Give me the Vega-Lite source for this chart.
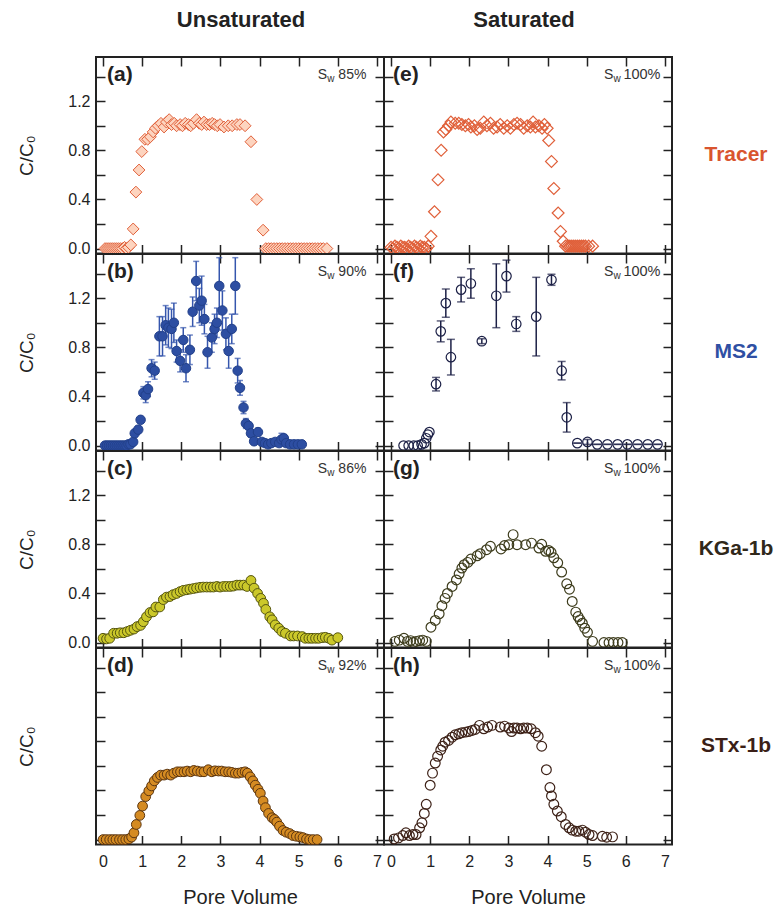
{
"$schema": "https://vega.github.io/schema/vega-lite/v6.json",
"padding": {"left": 16, "top": 8, "right": 0, "bottom": 0},
"config": {
 "font": "Liberation Sans",
 "view": {"stroke": "#222", "strokeWidth": 2},
 "axis": {"domain": false, "grid": false, "tickSize": -9, "tickWidth": 1.5, "tickColor": "#222", "labelFontSize": 16, "labelColor": "#222", "labelPadding": 15, "labelOverlap": false, "labelFlush": false, "labelBound": false, "titleFontSize": 19, "titleFontWeight": "normal", "titleColor": "#222"},
 "title": {"fontSize": 22, "fontWeight": "bold", "color": "#222", "anchor": "middle"}
},
"datasets": {
 "a": [{"pv":0.05,"c":0},{"pv":0.1,"c":0},{"pv":0.15,"c":0},{"pv":0.2,"c":0},{"pv":0.25,"c":0},{"pv":0.3,"c":0},{"pv":0.35,"c":0},{"pv":0.4,"c":0},{"pv":0.45,"c":0},{"pv":0.5,"c":0},{"pv":0.55,"c":0.01},{"pv":0.6,"c":0},{"pv":0.65,"c":0.01},{"pv":0.71,"c":0.03},{"pv":0.77,"c":0.16},{"pv":0.84,"c":0.46},{"pv":0.92,"c":0.64},{"pv":0.99,"c":0.79},{"pv":1.07,"c":0.89},{"pv":1.14,"c":0.89},{"pv":1.21,"c":0.91},{"pv":1.28,"c":0.95},{"pv":1.34,"c":0.98},{"pv":1.41,"c":1.0},{"pv":1.48,"c":1.02},{"pv":1.56,"c":0.99},{"pv":1.62,"c":1.03},{"pv":1.69,"c":1.05},{"pv":1.75,"c":1.01},{"pv":1.82,"c":1.02},{"pv":1.88,"c":1.0},{"pv":1.97,"c":1.01},{"pv":2.03,"c":1.0},{"pv":2.1,"c":1.02},{"pv":2.18,"c":1.01},{"pv":2.24,"c":1.0},{"pv":2.31,"c":1.02},{"pv":2.39,"c":1.05},{"pv":2.46,"c":1.02},{"pv":2.52,"c":1.01},{"pv":2.58,"c":1.03},{"pv":2.65,"c":1.01},{"pv":2.72,"c":1.01},{"pv":2.79,"c":1.02},{"pv":2.85,"c":1.01},{"pv":2.92,"c":1.0},{"pv":2.99,"c":1.01},{"pv":3.09,"c":0.99},{"pv":3.2,"c":1.0},{"pv":3.3,"c":1.0},{"pv":3.42,"c":1.01},{"pv":3.5,"c":1.01},{"pv":3.63,"c":1.0},{"pv":3.78,"c":0.87},{"pv":3.93,"c":0.4},{"pv":4.09,"c":0.15},{"pv":4.16,"c":0},{"pv":4.23,"c":0},{"pv":4.3,"c":0},{"pv":4.37,"c":0},{"pv":4.44,"c":0},{"pv":4.51,"c":0},{"pv":4.58,"c":0},{"pv":4.65,"c":0},{"pv":4.72,"c":0},{"pv":4.79,"c":0},{"pv":4.86,"c":0},{"pv":4.93,"c":0},{"pv":5.0,"c":0},{"pv":5.07,"c":0},{"pv":5.14,"c":0},{"pv":5.21,"c":0},{"pv":5.28,"c":0},{"pv":5.35,"c":0},{"pv":5.42,"c":0},{"pv":5.49,"c":0},{"pv":5.56,"c":0},{"pv":5.63,"c":0},{"pv":5.72,"c":0}],
 "e": [{"pv":0.0,"c":0.01},{"pv":0.05,"c":0.0},{"pv":0.1,"c":0.02},{"pv":0.15,"c":0.01},{"pv":0.2,"c":0.0},{"pv":0.25,"c":0.02},{"pv":0.3,"c":0.01},{"pv":0.35,"c":0.01},{"pv":0.4,"c":0.0},{"pv":0.45,"c":0.02},{"pv":0.5,"c":0.01},{"pv":0.55,"c":0.0},{"pv":0.6,"c":0.02},{"pv":0.65,"c":0.01},{"pv":0.7,"c":0.0},{"pv":0.75,"c":0.02},{"pv":0.8,"c":0.01},{"pv":0.85,"c":0.01},{"pv":0.9,"c":0.0},{"pv":0.95,"c":0.02},{"pv":1.02,"c":0.1},{"pv":1.11,"c":0.3},{"pv":1.2,"c":0.56},{"pv":1.28,"c":0.8},{"pv":1.34,"c":0.95},{"pv":1.4,"c":0.97},{"pv":1.47,"c":1.0},{"pv":1.53,"c":1.03},{"pv":1.64,"c":1.02},{"pv":1.73,"c":1.02},{"pv":1.81,"c":1.01},{"pv":1.9,"c":1.0},{"pv":1.98,"c":1.01},{"pv":2.04,"c":0.99},{"pv":2.13,"c":1.0},{"pv":2.2,"c":0.97},{"pv":2.28,"c":0.98},{"pv":2.37,"c":1.03},{"pv":2.45,"c":1.0},{"pv":2.54,"c":1.02},{"pv":2.62,"c":0.98},{"pv":2.71,"c":0.99},{"pv":2.79,"c":1.01},{"pv":2.88,"c":0.98},{"pv":2.97,"c":1.0},{"pv":3.05,"c":0.98},{"pv":3.14,"c":1.01},{"pv":3.22,"c":1.02},{"pv":3.31,"c":1.01},{"pv":3.39,"c":0.98},{"pv":3.48,"c":1.0},{"pv":3.56,"c":0.99},{"pv":3.63,"c":1.03},{"pv":3.69,"c":0.99},{"pv":3.78,"c":1.0},{"pv":3.86,"c":0.98},{"pv":3.92,"c":1.01},{"pv":3.99,"c":0.98},{"pv":4.03,"c":0.88},{"pv":4.1,"c":0.71},{"pv":4.16,"c":0.49},{"pv":4.27,"c":0.29},{"pv":4.33,"c":0.14},{"pv":4.4,"c":0.06},{"pv":4.46,"c":0.02},{"pv":4.52,"c":0.02},{"pv":4.57,"c":0.02},{"pv":4.62,"c":0.02},{"pv":4.67,"c":0.02},{"pv":4.72,"c":0.02},{"pv":4.77,"c":0.02},{"pv":4.82,"c":0.02},{"pv":4.87,"c":0.02},{"pv":4.92,"c":0.02},{"pv":4.97,"c":0.02},{"pv":5.05,"c":0.02},{"pv":5.15,"c":0.02}],
 "b": [{"pv":0.05,"c":0},{"pv":0.1,"c":0},{"pv":0.15,"c":0},{"pv":0.2,"c":0},{"pv":0.25,"c":0},{"pv":0.3,"c":0},{"pv":0.35,"c":0},{"pv":0.4,"c":0},{"pv":0.45,"c":0},{"pv":0.5,"c":0},{"pv":0.55,"c":0},{"pv":0.6,"c":0},{"pv":0.65,"c":0.01},{"pv":0.7,"c":0.01},{"pv":0.77,"c":0.03,"lo":0.02,"hi":0.04},{"pv":0.81,"c":0.1,"lo":0.07,"hi":0.13},{"pv":0.9,"c":0.13,"lo":0.1,"hi":0.16},{"pv":0.96,"c":0.21,"lo":0.19,"hi":0.23},{"pv":1.03,"c":0.43,"lo":0.38,"hi":0.48},{"pv":1.09,"c":0.41,"lo":0.35,"hi":0.47},{"pv":1.15,"c":0.46,"lo":0.4,"hi":0.52},{"pv":1.24,"c":0.63,"lo":0.56,"hi":0.7},{"pv":1.32,"c":0.61,"lo":0.54,"hi":0.68},{"pv":1.44,"c":0.89,"lo":0.73,"hi":1.05},{"pv":1.52,"c":0.89,"lo":0.73,"hi":1.05},{"pv":1.6,"c":0.98,"lo":0.82,"hi":1.14},{"pv":1.67,"c":0.96,"lo":0.8,"hi":1.12},{"pv":1.75,"c":0.95,"lo":0.79,"hi":1.11},{"pv":1.81,"c":1.0,"lo":0.84,"hi":1.16},{"pv":1.88,"c":0.77,"lo":0.68,"hi":0.86},{"pv":1.97,"c":0.69,"lo":0.6,"hi":0.78},{"pv":2.05,"c":0.86,"lo":0.76,"hi":0.96},{"pv":2.12,"c":0.63,"lo":0.52,"hi":0.74},{"pv":2.22,"c":0.78,"lo":0.66,"hi":0.9},{"pv":2.29,"c":1.09,"lo":0.97,"hi":1.21},{"pv":2.38,"c":1.34,"lo":1.18,"hi":1.5},{"pv":2.46,"c":1.14,"lo":1.0,"hi":1.28},{"pv":2.52,"c":1.18,"lo":0.98,"hi":1.38},{"pv":2.59,"c":1.03,"lo":0.91,"hi":1.15},{"pv":2.67,"c":0.76,"lo":0.63,"hi":0.89},{"pv":2.78,"c":0.88,"lo":0.76,"hi":1.0},{"pv":2.85,"c":0.95,"lo":0.83,"hi":1.07},{"pv":2.91,"c":1.0,"lo":0.88,"hi":1.12},{"pv":2.97,"c":1.3,"lo":1.07,"hi":1.53},{"pv":3.05,"c":1.1,"lo":0.94,"hi":1.26},{"pv":3.14,"c":0.91,"lo":0.78,"hi":1.04},{"pv":3.21,"c":0.77,"lo":0.63,"hi":0.91},{"pv":3.29,"c":0.95,"lo":0.83,"hi":1.07},{"pv":3.38,"c":1.3,"lo":1.07,"hi":1.53},{"pv":3.44,"c":0.61,"lo":0.51,"hi":0.71},{"pv":3.5,"c":0.47,"lo":0.41,"hi":0.53},{"pv":3.59,"c":0.31,"lo":0.26,"hi":0.36},{"pv":3.65,"c":0.18,"lo":0.14,"hi":0.22},{"pv":3.72,"c":0.16,"lo":0.13,"hi":0.19},{"pv":3.78,"c":0.1,"lo":0.07,"hi":0.13},{"pv":3.86,"c":0.035,"lo":0.015,"hi":0.055},{"pv":3.96,"c":0.11,"lo":0.08,"hi":0.14},{"pv":4.06,"c":0.03},{"pv":4.14,"c":0.02},{"pv":4.22,"c":0.01},{"pv":4.3,"c":0.02},{"pv":4.4,"c":0.03},{"pv":4.5,"c":0.02},{"pv":4.56,"c":0.05,"lo":0.01,"hi":0.1},{"pv":4.62,"c":0.06,"lo":0.03,"hi":0.09},{"pv":4.68,"c":0.02},{"pv":4.78,"c":0.01},{"pv":4.88,"c":0.01},{"pv":4.98,"c":0.01},{"pv":5.08,"c":0.01}],
 "f": [{"pv":0.32,"c":0},{"pv":0.45,"c":0},{"pv":0.58,"c":0},{"pv":0.68,"c":0},{"pv":0.78,"c":0.01},{"pv":0.85,"c":0.02},{"pv":0.9,"c":0.06},{"pv":0.94,"c":0.09},{"pv":0.98,"c":0.11},{"pv":1.15,"c":0.5,"lo":0.445,"hi":0.555},{"pv":1.27,"c":0.93,"lo":0.845,"hi":1.015},{"pv":1.4,"c":1.16,"lo":1.045,"hi":1.275},{"pv":1.53,"c":0.72,"lo":0.575,"hi":0.865},{"pv":1.79,"c":1.27,"lo":1.17,"hi":1.37},{"pv":2.04,"c":1.32,"lo":1.2,"hi":1.44},{"pv":2.32,"c":0.85,"lo":0.83,"hi":0.87},{"pv":2.69,"c":1.22,"lo":0.96,"hi":1.48},{"pv":2.95,"c":1.38,"lo":1.25,"hi":1.51},{"pv":3.2,"c":0.99,"lo":0.93,"hi":1.05},{"pv":3.71,"c":1.05,"lo":0.73,"hi":1.37},{"pv":4.1,"c":1.35,"lo":1.305,"hi":1.395},{"pv":4.36,"c":0.61,"lo":0.535,"hi":0.685},{"pv":4.49,"c":0.23,"lo":0.11,"hi":0.35},{"pv":4.76,"c":0.02,"lo":0.02,"hi":0.02},{"pv":5.02,"c":0.03,"lo":0.01,"hi":0.05},{"pv":5.27,"c":0.01,"lo":0.01,"hi":0.01},{"pv":5.53,"c":0.01,"lo":0.01,"hi":0.01},{"pv":5.79,"c":0.01,"lo":0.01,"hi":0.01},{"pv":6.04,"c":0.01,"lo":0.01,"hi":0.01},{"pv":6.3,"c":0.01,"lo":0.01,"hi":0.01},{"pv":6.56,"c":0.01,"lo":0.01,"hi":0.01},{"pv":6.81,"c":0.01,"lo":0.01,"hi":0.01}],
 "c": [{"pv":0.0,"c":0.035},{"pv":0.09,"c":0.03},{"pv":0.17,"c":0.035},{"pv":0.27,"c":0.076},{"pv":0.36,"c":0.076},{"pv":0.44,"c":0.08},{"pv":0.53,"c":0.08},{"pv":0.62,"c":0.09},{"pv":0.7,"c":0.1},{"pv":0.79,"c":0.11},{"pv":0.87,"c":0.13},{"pv":0.96,"c":0.14},{"pv":1.03,"c":0.17},{"pv":1.11,"c":0.21},{"pv":1.2,"c":0.245},{"pv":1.28,"c":0.25},{"pv":1.35,"c":0.29},{"pv":1.45,"c":0.29},{"pv":1.54,"c":0.35},{"pv":1.62,"c":0.37},{"pv":1.71,"c":0.375},{"pv":1.79,"c":0.39},{"pv":1.88,"c":0.4},{"pv":1.97,"c":0.415},{"pv":2.05,"c":0.425},{"pv":2.14,"c":0.43},{"pv":2.22,"c":0.435},{"pv":2.31,"c":0.44},{"pv":2.39,"c":0.445},{"pv":2.48,"c":0.45},{"pv":2.56,"c":0.452},{"pv":2.65,"c":0.452},{"pv":2.74,"c":0.452},{"pv":2.82,"c":0.452},{"pv":2.91,"c":0.457},{"pv":2.99,"c":0.452},{"pv":3.08,"c":0.457},{"pv":3.16,"c":0.457},{"pv":3.25,"c":0.457},{"pv":3.33,"c":0.46},{"pv":3.42,"c":0.468},{"pv":3.5,"c":0.468},{"pv":3.59,"c":0.468},{"pv":3.68,"c":0.457},{"pv":3.78,"c":0.506},{"pv":3.86,"c":0.443},{"pv":3.95,"c":0.4},{"pv":4.03,"c":0.36},{"pv":4.1,"c":0.32},{"pv":4.16,"c":0.27},{"pv":4.26,"c":0.21},{"pv":4.32,"c":0.185},{"pv":4.4,"c":0.144},{"pv":4.49,"c":0.117},{"pv":4.57,"c":0.09},{"pv":4.66,"c":0.076},{"pv":4.79,"c":0.054},{"pv":4.87,"c":0.054},{"pv":4.97,"c":0.054},{"pv":5.09,"c":0.049},{"pv":5.17,"c":0.035},{"pv":5.26,"c":0.035},{"pv":5.34,"c":0.035},{"pv":5.43,"c":0.035},{"pv":5.51,"c":0.035},{"pv":5.6,"c":0.04},{"pv":5.68,"c":0.043},{"pv":5.77,"c":0.035},{"pv":5.85,"c":0.02},{"pv":6.0,"c":0.04}],
 "g": [{"pv":0.1,"c":0.01},{"pv":0.21,"c":0.02},{"pv":0.33,"c":0.035},{"pv":0.42,"c":0.01},{"pv":0.5,"c":0.016},{"pv":0.57,"c":0.0},{"pv":0.64,"c":0.01},{"pv":0.73,"c":0.016},{"pv":0.81,"c":0.02},{"pv":0.9,"c":0.01},{"pv":1.02,"c":0.125},{"pv":1.13,"c":0.18},{"pv":1.23,"c":0.234},{"pv":1.3,"c":0.3},{"pv":1.38,"c":0.36},{"pv":1.44,"c":0.4},{"pv":1.56,"c":0.457},{"pv":1.67,"c":0.51},{"pv":1.74,"c":0.56},{"pv":1.81,"c":0.607},{"pv":1.87,"c":0.634},{"pv":1.96,"c":0.653},{"pv":2.04,"c":0.68},{"pv":2.2,"c":0.707},{"pv":2.28,"c":0.724},{"pv":2.44,"c":0.756},{"pv":2.54,"c":0.784},{"pv":2.81,"c":0.762},{"pv":2.9,"c":0.79},{"pv":3.01,"c":0.797},{"pv":3.12,"c":0.879},{"pv":3.22,"c":0.797},{"pv":3.44,"c":0.797},{"pv":3.59,"c":0.81},{"pv":3.78,"c":0.77},{"pv":3.85,"c":0.8},{"pv":3.95,"c":0.743},{"pv":4.03,"c":0.75},{"pv":4.09,"c":0.735},{"pv":4.16,"c":0.69},{"pv":4.26,"c":0.65},{"pv":4.36,"c":0.574},{"pv":4.49,"c":0.479},{"pv":4.56,"c":0.435},{"pv":4.63,"c":0.335},{"pv":4.72,"c":0.248},{"pv":4.78,"c":0.212},{"pv":4.83,"c":0.185},{"pv":4.89,"c":0.158},{"pv":4.95,"c":0.117},{"pv":5.02,"c":0.084},{"pv":5.15,"c":0.01},{"pv":5.44,"c":0.0},{"pv":5.57,"c":0.0},{"pv":5.68,"c":0.0},{"pv":5.8,"c":0.0},{"pv":5.91,"c":0.0}],
 "d": [{"pv":0.0,"c":0},{"pv":0.08,"c":0},{"pv":0.17,"c":0},{"pv":0.25,"c":0},{"pv":0.33,"c":0},{"pv":0.42,"c":0},{"pv":0.5,"c":0},{"pv":0.58,"c":0},{"pv":0.66,"c":0.005},{"pv":0.73,"c":0.02},{"pv":0.79,"c":0.055},{"pv":0.85,"c":0.123},{"pv":0.94,"c":0.197},{"pv":1.01,"c":0.273},{"pv":1.09,"c":0.35},{"pv":1.17,"c":0.397},{"pv":1.24,"c":0.437},{"pv":1.31,"c":0.478},{"pv":1.39,"c":0.506},{"pv":1.47,"c":0.525},{"pv":1.56,"c":0.525},{"pv":1.64,"c":0.533},{"pv":1.73,"c":0.525},{"pv":1.81,"c":0.541},{"pv":1.9,"c":0.552},{"pv":1.98,"c":0.552},{"pv":2.07,"c":0.552},{"pv":2.15,"c":0.558},{"pv":2.24,"c":0.552},{"pv":2.32,"c":0.563},{"pv":2.41,"c":0.558},{"pv":2.5,"c":0.552},{"pv":2.58,"c":0.552},{"pv":2.69,"c":0.569},{"pv":2.78,"c":0.552},{"pv":2.86,"c":0.56},{"pv":2.95,"c":0.558},{"pv":3.03,"c":0.558},{"pv":3.12,"c":0.552},{"pv":3.21,"c":0.552},{"pv":3.29,"c":0.547},{"pv":3.38,"c":0.541},{"pv":3.46,"c":0.541},{"pv":3.55,"c":0.547},{"pv":3.63,"c":0.552},{"pv":3.69,"c":0.541},{"pv":3.76,"c":0.511},{"pv":3.83,"c":0.478},{"pv":3.89,"c":0.443},{"pv":3.96,"c":0.41},{"pv":4.02,"c":0.377},{"pv":4.09,"c":0.314},{"pv":4.15,"c":0.26},{"pv":4.23,"c":0.213},{"pv":4.32,"c":0.178},{"pv":4.38,"c":0.164},{"pv":4.44,"c":0.142},{"pv":4.51,"c":0.109},{"pv":4.6,"c":0.074},{"pv":4.68,"c":0.06},{"pv":4.77,"c":0.049},{"pv":4.85,"c":0.033},{"pv":4.94,"c":0.027},{"pv":5.03,"c":0.022},{"pv":5.11,"c":0.016},{"pv":5.2,"c":0.005},{"pv":5.28,"c":0},{"pv":5.37,"c":0},{"pv":5.47,"c":0}],
 "h": [{"pv":0.08,"c":0.005},{"pv":0.19,"c":0.014},{"pv":0.3,"c":0.033},{"pv":0.38,"c":0.055},{"pv":0.47,"c":0.033},{"pv":0.56,"c":0.041},{"pv":0.64,"c":0.041},{"pv":0.73,"c":0.096},{"pv":0.79,"c":0.137},{"pv":0.85,"c":0.213},{"pv":0.9,"c":0.287},{"pv":1.0,"c":0.443},{"pv":1.06,"c":0.541},{"pv":1.13,"c":0.623},{"pv":1.19,"c":0.678},{"pv":1.27,"c":0.73},{"pv":1.32,"c":0.76},{"pv":1.38,"c":0.793},{"pv":1.47,"c":0.807},{"pv":1.56,"c":0.834},{"pv":1.64,"c":0.853},{"pv":1.73,"c":0.861},{"pv":1.81,"c":0.87},{"pv":1.9,"c":0.875},{"pv":1.98,"c":0.88},{"pv":2.07,"c":0.889},{"pv":2.15,"c":0.897},{"pv":2.26,"c":0.93},{"pv":2.37,"c":0.902},{"pv":2.47,"c":0.916},{"pv":2.58,"c":0.93},{"pv":2.79,"c":0.916},{"pv":2.9,"c":0.924},{"pv":3.01,"c":0.908},{"pv":3.08,"c":0.88},{"pv":3.14,"c":0.908},{"pv":3.22,"c":0.908},{"pv":3.31,"c":0.902},{"pv":3.39,"c":0.908},{"pv":3.48,"c":0.908},{"pv":3.58,"c":0.902},{"pv":3.69,"c":0.87},{"pv":3.76,"c":0.842},{"pv":3.85,"c":0.76},{"pv":3.97,"c":0.569},{"pv":4.06,"c":0.424},{"pv":4.1,"c":0.355},{"pv":4.16,"c":0.287},{"pv":4.25,"c":0.232},{"pv":4.35,"c":0.186},{"pv":4.46,"c":0.123},{"pv":4.55,"c":0.096},{"pv":4.63,"c":0.077},{"pv":4.72,"c":0.068},{"pv":4.8,"c":0.068},{"pv":4.89,"c":0.077},{"pv":4.97,"c":0.06},{"pv":5.06,"c":0.041},{"pv":5.15,"c":0.033},{"pv":5.4,"c":0.027},{"pv":5.51,"c":0.019},{"pv":5.66,"c":0.022}]
},
"columns": 3,
"spacing": 0,
"bounds": "flush",
"concat": [
 {"width": 288, "height": 196.5, "title": {"text": "Unsaturated", "offset": 24, "dx": 1},
  "layer": [
   {"data": {"name": "a"}, "mark": {"type": "point", "shape": "diamond", "filled": true, "fill": "#fdd4bf", "stroke": "#e0603a", "strokeWidth": 1, "size": 140, "opacity": 1},
    "encoding": {"x": {"field": "pv", "type": "quantitative", "scale": {"domain": [-0.18, 7.18], "nice": false, "zero": false}, "axis": {"orient": "bottom", "values": [0,1,2,3,4,5,6,7], "labels": false, "title": null}},
                 "y": {"field": "c", "type": "quantitative", "scale": {"domain": [-0.04, 1.56], "nice": false, "zero": false}, "axis": {"orient": "left", "values": [0,0.2,0.4,0.6,0.8,1,1.2,1.4], "labelExpr": "round(datum.value*10)%4==0 ? format(datum.value,'.1f') : ''", "title": "C/C₀", "titlePadding": 31}}}},
   {"data": {"values": [{}]}, "mark": {"type": "text", "text": "(a)", "fontSize": 21, "fontWeight": "bold", "align": "left", "baseline": "middle", "color": "#222"},
    "encoding": {"x": {"datum": 0.1, "type": "quantitative", "scale": {"domain": [-0.18, 7.18], "nice": false, "zero": false}, "axis": {"orient": "top", "values": [0,1,2,3,4,5,6,7], "labels": false, "title": null}},
                 "y": {"datum": 1.41, "type": "quantitative", "scale": {"domain": [-0.04, 1.56], "nice": false, "zero": false}, "axis": {"orient": "right", "values": [0,0.2,0.4,0.6,0.8,1,1.2,1.4], "labels": false, "title": null}}}},
   {"data": {"values": [{}]}, "mark": {"type": "text", "text": "S", "fontSize": 14, "align": "left", "baseline": "middle", "color": "#333"},
    "encoding": {"x": {"datum": 5.49, "type": "quantitative", "axis": null}, "y": {"datum": 1.41, "type": "quantitative", "axis": null}}},
   {"data": {"values": [{}]}, "mark": {"type": "text", "text": "w", "fontSize": 10, "dx": 9.5, "dy": 4, "align": "left", "baseline": "middle", "color": "#333"},
    "encoding": {"x": {"datum": 5.49, "type": "quantitative", "axis": null}, "y": {"datum": 1.41, "type": "quantitative", "axis": null}}},
   {"data": {"values": [{}]}, "mark": {"type": "text", "text": "85%", "fontSize": 14, "dx": 20.5, "align": "left", "baseline": "middle", "color": "#333"},
    "encoding": {"x": {"datum": 5.49, "type": "quantitative", "axis": null}, "y": {"datum": 1.41, "type": "quantitative", "axis": null}}}
  ],
  "resolve": {"axis": {"x": "independent", "y": "independent"}}},
 {"width": 288, "height": 196.5, "title": {"text": "Saturated", "offset": 24, "dx": -4},
  "layer": [
   {"data": {"name": "e"}, "mark": {"type": "point", "shape": "diamond", "filled": false, "stroke": "#e0603a", "strokeWidth": 1.2, "size": 140, "opacity": 1},
    "encoding": {"x": {"field": "pv", "type": "quantitative", "scale": {"domain": [-0.18, 7.18], "nice": false, "zero": false}, "axis": {"orient": "bottom", "values": [0,1,2,3,4,5,6,7], "labels": false, "title": null}},
                 "y": {"field": "c", "type": "quantitative", "scale": {"domain": [-0.04, 1.56], "nice": false, "zero": false}, "axis": {"orient": "left", "values": [0,0.2,0.4,0.6,0.8,1,1.2,1.4], "labels": false, "title": null}}}},
   {"data": {"values": [{}]}, "mark": {"type": "text", "text": "(e)", "fontSize": 21, "fontWeight": "bold", "align": "left", "baseline": "middle", "color": "#222"},
    "encoding": {"x": {"datum": 0.05, "type": "quantitative", "scale": {"domain": [-0.18, 7.18], "nice": false, "zero": false}, "axis": {"orient": "top", "values": [0,1,2,3,4,5,6,7], "labels": false, "title": null}},
                 "y": {"datum": 1.41, "type": "quantitative", "scale": {"domain": [-0.04, 1.56], "nice": false, "zero": false}, "axis": {"orient": "right", "values": [0,0.2,0.4,0.6,0.8,1,1.2,1.4], "labels": false, "title": null}}}},
   {"data": {"values": [{}]}, "mark": {"type": "text", "text": "S", "fontSize": 14, "align": "left", "baseline": "middle", "color": "#333"},
    "encoding": {"x": {"datum": 5.44, "type": "quantitative", "axis": null}, "y": {"datum": 1.41, "type": "quantitative", "axis": null}}},
   {"data": {"values": [{}]}, "mark": {"type": "text", "text": "w", "fontSize": 10, "dx": 9.5, "dy": 4, "align": "left", "baseline": "middle", "color": "#333"},
    "encoding": {"x": {"datum": 5.44, "type": "quantitative", "axis": null}, "y": {"datum": 1.41, "type": "quantitative", "axis": null}}},
   {"data": {"values": [{}]}, "mark": {"type": "text", "text": "100%", "fontSize": 14.5, "dx": 19.5, "align": "left", "baseline": "middle", "color": "#333"},
    "encoding": {"x": {"datum": 5.44, "type": "quantitative", "axis": null}, "y": {"datum": 1.41, "type": "quantitative", "axis": null}}}
  ],
  "resolve": {"axis": {"x": "independent", "y": "independent"}}},
 {"width": 100, "height": 196.5, "view": {"stroke": null}, "data": {"values": [{}]},
  "mark": {"type": "text", "text": "Tracer", "fontSize": 21, "fontWeight": "bold", "color": "#d9552f"},
  "encoding": {"x": {"datum": 64, "type": "quantitative", "scale": {"domain": [0, 100]}, "axis": null}, "y": {"datum": 0.5, "type": "quantitative", "scale": {"domain": [0, 1]}, "axis": null}}},
 {"width": 288, "height": 196.5,
  "layer": [
   {"data": {"name": "b"}, "mark": {"type": "rule", "color": "#3556ad", "strokeWidth": 1.5},
    "encoding": {"x": {"field": "pv", "type": "quantitative", "scale": {"domain": [-0.18, 7.18], "nice": false, "zero": false}, "axis": null}, "y": {"field": "lo", "type": "quantitative", "scale": {"domain": [-0.04, 1.56], "nice": false, "zero": false}, "axis": null}, "y2": {"field": "hi"}}},
   {"data": {"name": "b"}, "mark": {"type": "tick", "orient": "horizontal", "color": "#3556ad", "size": 6, "thickness": 1.5},
    "encoding": {"x": {"field": "pv", "type": "quantitative", "axis": null}, "y": {"field": "lo", "type": "quantitative", "axis": null}}},
   {"data": {"name": "b"}, "mark": {"type": "tick", "orient": "horizontal", "color": "#3556ad", "size": 6, "thickness": 1.5},
    "encoding": {"x": {"field": "pv", "type": "quantitative", "axis": null}, "y": {"field": "hi", "type": "quantitative", "axis": null}}},
   {"data": {"name": "b"}, "mark": {"type": "point", "shape": "circle", "filled": true, "fill": "#2d4ea2", "stroke": "#22408a", "strokeWidth": 1, "size": 90, "opacity": 1},
    "encoding": {"x": {"field": "pv", "type": "quantitative", "axis": {"orient": "bottom", "values": [0,1,2,3,4,5,6,7], "labels": false, "title": null}},
                 "y": {"field": "c", "type": "quantitative", "axis": {"orient": "left", "values": [0,0.2,0.4,0.6,0.8,1,1.2,1.4], "labelExpr": "round(datum.value*10)%4==0 ? format(datum.value,'.1f') : ''", "title": "C/C₀", "titlePadding": 31}}}},
   {"data": {"values": [{}]}, "mark": {"type": "text", "text": "(b)", "fontSize": 21, "fontWeight": "bold", "align": "left", "baseline": "middle", "color": "#222"},
    "encoding": {"x": {"datum": 0.1, "type": "quantitative", "axis": {"orient": "top", "values": [0,1,2,3,4,5,6,7], "labels": false, "title": null}},
                 "y": {"datum": 1.41, "type": "quantitative", "axis": {"orient": "right", "values": [0,0.2,0.4,0.6,0.8,1,1.2,1.4], "labels": false, "title": null}}}},
   {"data": {"values": [{}]}, "mark": {"type": "text", "text": "S", "fontSize": 14, "align": "left", "baseline": "middle", "color": "#333"},
    "encoding": {"x": {"datum": 5.49, "type": "quantitative", "axis": null}, "y": {"datum": 1.41, "type": "quantitative", "axis": null}}},
   {"data": {"values": [{}]}, "mark": {"type": "text", "text": "w", "fontSize": 10, "dx": 9.5, "dy": 4, "align": "left", "baseline": "middle", "color": "#333"},
    "encoding": {"x": {"datum": 5.49, "type": "quantitative", "axis": null}, "y": {"datum": 1.41, "type": "quantitative", "axis": null}}},
   {"data": {"values": [{}]}, "mark": {"type": "text", "text": "90%", "fontSize": 14, "dx": 20.5, "align": "left", "baseline": "middle", "color": "#333"},
    "encoding": {"x": {"datum": 5.49, "type": "quantitative", "axis": null}, "y": {"datum": 1.41, "type": "quantitative", "axis": null}}}
  ],
  "resolve": {"axis": {"x": "independent", "y": "independent"}}},
 {"width": 288, "height": 196.5,
  "layer": [
   {"data": {"name": "f"}, "mark": {"type": "rule", "color": "#1c2046", "strokeWidth": 1.5},
    "encoding": {"x": {"field": "pv", "type": "quantitative", "scale": {"domain": [-0.18, 7.18], "nice": false, "zero": false}, "axis": null}, "y": {"field": "lo", "type": "quantitative", "scale": {"domain": [-0.04, 1.56], "nice": false, "zero": false}, "axis": null}, "y2": {"field": "hi"}}},
   {"data": {"name": "f"}, "mark": {"type": "tick", "orient": "horizontal", "color": "#1c2046", "size": 8, "thickness": 1.5},
    "encoding": {"x": {"field": "pv", "type": "quantitative", "axis": null}, "y": {"field": "lo", "type": "quantitative", "axis": null}}},
   {"data": {"name": "f"}, "mark": {"type": "tick", "orient": "horizontal", "color": "#1c2046", "size": 8, "thickness": 1.5},
    "encoding": {"x": {"field": "pv", "type": "quantitative", "axis": null}, "y": {"field": "hi", "type": "quantitative", "axis": null}}},
   {"data": {"name": "f"}, "mark": {"type": "point", "shape": "circle", "filled": false, "stroke": "#1c2046", "strokeWidth": 1.2, "size": 90, "opacity": 1},
    "encoding": {"x": {"field": "pv", "type": "quantitative", "axis": {"orient": "bottom", "values": [0,1,2,3,4,5,6,7], "labels": false, "title": null}},
                 "y": {"field": "c", "type": "quantitative", "axis": {"orient": "left", "values": [0,0.2,0.4,0.6,0.8,1,1.2,1.4], "labels": false, "title": null}}}},
   {"data": {"values": [{}]}, "mark": {"type": "text", "text": "(f)", "fontSize": 21, "fontWeight": "bold", "align": "left", "baseline": "middle", "color": "#222"},
    "encoding": {"x": {"datum": 0.05, "type": "quantitative", "axis": {"orient": "top", "values": [0,1,2,3,4,5,6,7], "labels": false, "title": null}},
                 "y": {"datum": 1.41, "type": "quantitative", "axis": {"orient": "right", "values": [0,0.2,0.4,0.6,0.8,1,1.2,1.4], "labels": false, "title": null}}}},
   {"data": {"values": [{}]}, "mark": {"type": "text", "text": "S", "fontSize": 14, "align": "left", "baseline": "middle", "color": "#333"},
    "encoding": {"x": {"datum": 5.44, "type": "quantitative", "axis": null}, "y": {"datum": 1.41, "type": "quantitative", "axis": null}}},
   {"data": {"values": [{}]}, "mark": {"type": "text", "text": "w", "fontSize": 10, "dx": 9.5, "dy": 4, "align": "left", "baseline": "middle", "color": "#333"},
    "encoding": {"x": {"datum": 5.44, "type": "quantitative", "axis": null}, "y": {"datum": 1.41, "type": "quantitative", "axis": null}}},
   {"data": {"values": [{}]}, "mark": {"type": "text", "text": "100%", "fontSize": 14.5, "dx": 19.5, "align": "left", "baseline": "middle", "color": "#333"},
    "encoding": {"x": {"datum": 5.44, "type": "quantitative", "axis": null}, "y": {"datum": 1.41, "type": "quantitative", "axis": null}}}
  ],
  "resolve": {"axis": {"x": "independent", "y": "independent"}}},
 {"width": 100, "height": 196.5, "view": {"stroke": null}, "data": {"values": [{}]},
  "mark": {"type": "text", "text": "MS2", "fontSize": 21, "fontWeight": "bold", "color": "#2f4fa3"},
  "encoding": {"x": {"datum": 64, "type": "quantitative", "scale": {"domain": [0, 100]}, "axis": null}, "y": {"datum": 0.5, "type": "quantitative", "scale": {"domain": [0, 1]}, "axis": null}}},
 {"width": 288, "height": 196.5,
  "layer": [
   {"data": {"name": "c"}, "mark": {"type": "point", "shape": "circle", "filled": true, "fill": "#cbc82a", "stroke": "#55550f", "strokeWidth": 1, "size": 95, "opacity": 1},
    "encoding": {"x": {"field": "pv", "type": "quantitative", "scale": {"domain": [-0.18, 7.18], "nice": false, "zero": false}, "axis": {"orient": "bottom", "values": [0,1,2,3,4,5,6,7], "labels": false, "title": null}},
                 "y": {"field": "c", "type": "quantitative", "scale": {"domain": [-0.04, 1.56], "nice": false, "zero": false}, "axis": {"orient": "left", "values": [0,0.2,0.4,0.6,0.8,1,1.2,1.4], "labelExpr": "round(datum.value*10)%4==0 ? format(datum.value,'.1f') : ''", "title": "C/C₀", "titlePadding": 31}}}},
   {"data": {"values": [{}]}, "mark": {"type": "text", "text": "(c)", "fontSize": 21, "fontWeight": "bold", "align": "left", "baseline": "middle", "color": "#222"},
    "encoding": {"x": {"datum": 0.1, "type": "quantitative", "scale": {"domain": [-0.18, 7.18], "nice": false, "zero": false}, "axis": {"orient": "top", "values": [0,1,2,3,4,5,6,7], "labels": false, "title": null}},
                 "y": {"datum": 1.41, "type": "quantitative", "scale": {"domain": [-0.04, 1.56], "nice": false, "zero": false}, "axis": {"orient": "right", "values": [0,0.2,0.4,0.6,0.8,1,1.2,1.4], "labels": false, "title": null}}}},
   {"data": {"values": [{}]}, "mark": {"type": "text", "text": "S", "fontSize": 14, "align": "left", "baseline": "middle", "color": "#333"},
    "encoding": {"x": {"datum": 5.49, "type": "quantitative", "axis": null}, "y": {"datum": 1.41, "type": "quantitative", "axis": null}}},
   {"data": {"values": [{}]}, "mark": {"type": "text", "text": "w", "fontSize": 10, "dx": 9.5, "dy": 4, "align": "left", "baseline": "middle", "color": "#333"},
    "encoding": {"x": {"datum": 5.49, "type": "quantitative", "axis": null}, "y": {"datum": 1.41, "type": "quantitative", "axis": null}}},
   {"data": {"values": [{}]}, "mark": {"type": "text", "text": "86%", "fontSize": 14, "dx": 20.5, "align": "left", "baseline": "middle", "color": "#333"},
    "encoding": {"x": {"datum": 5.49, "type": "quantitative", "axis": null}, "y": {"datum": 1.41, "type": "quantitative", "axis": null}}}
  ],
  "resolve": {"axis": {"x": "independent", "y": "independent"}}},
 {"width": 288, "height": 196.5,
  "layer": [
   {"data": {"name": "g"}, "mark": {"type": "point", "shape": "circle", "filled": false, "stroke": "#3d3c1c", "strokeWidth": 1.2, "size": 95, "opacity": 1},
    "encoding": {"x": {"field": "pv", "type": "quantitative", "scale": {"domain": [-0.18, 7.18], "nice": false, "zero": false}, "axis": {"orient": "bottom", "values": [0,1,2,3,4,5,6,7], "labels": false, "title": null}},
                 "y": {"field": "c", "type": "quantitative", "scale": {"domain": [-0.04, 1.56], "nice": false, "zero": false}, "axis": {"orient": "left", "values": [0,0.2,0.4,0.6,0.8,1,1.2,1.4], "labels": false, "title": null}}}},
   {"data": {"values": [{}]}, "mark": {"type": "text", "text": "(g)", "fontSize": 21, "fontWeight": "bold", "align": "left", "baseline": "middle", "color": "#222"},
    "encoding": {"x": {"datum": 0.05, "type": "quantitative", "scale": {"domain": [-0.18, 7.18], "nice": false, "zero": false}, "axis": {"orient": "top", "values": [0,1,2,3,4,5,6,7], "labels": false, "title": null}},
                 "y": {"datum": 1.41, "type": "quantitative", "scale": {"domain": [-0.04, 1.56], "nice": false, "zero": false}, "axis": {"orient": "right", "values": [0,0.2,0.4,0.6,0.8,1,1.2,1.4], "labels": false, "title": null}}}},
   {"data": {"values": [{}]}, "mark": {"type": "text", "text": "S", "fontSize": 14, "align": "left", "baseline": "middle", "color": "#333"},
    "encoding": {"x": {"datum": 5.44, "type": "quantitative", "axis": null}, "y": {"datum": 1.41, "type": "quantitative", "axis": null}}},
   {"data": {"values": [{}]}, "mark": {"type": "text", "text": "w", "fontSize": 10, "dx": 9.5, "dy": 4, "align": "left", "baseline": "middle", "color": "#333"},
    "encoding": {"x": {"datum": 5.44, "type": "quantitative", "axis": null}, "y": {"datum": 1.41, "type": "quantitative", "axis": null}}},
   {"data": {"values": [{}]}, "mark": {"type": "text", "text": "100%", "fontSize": 14.5, "dx": 19.5, "align": "left", "baseline": "middle", "color": "#333"},
    "encoding": {"x": {"datum": 5.44, "type": "quantitative", "axis": null}, "y": {"datum": 1.41, "type": "quantitative", "axis": null}}}
  ],
  "resolve": {"axis": {"x": "independent", "y": "independent"}}},
 {"width": 100, "height": 196.5, "view": {"stroke": null}, "data": {"values": [{}]},
  "mark": {"type": "text", "text": "KGa-1b", "fontSize": 21, "fontWeight": "bold", "color": "#30281a"},
  "encoding": {"x": {"datum": 64, "type": "quantitative", "scale": {"domain": [0, 100]}, "axis": null}, "y": {"datum": 0.5, "type": "quantitative", "scale": {"domain": [0, 1]}, "axis": null}}},
 {"width": 288, "height": 196.5,
  "layer": [
   {"data": {"name": "d"}, "mark": {"type": "point", "shape": "circle", "filled": true, "fill": "#d58b22", "stroke": "#5b3510", "strokeWidth": 1, "size": 95, "opacity": 1},
    "encoding": {"x": {"field": "pv", "type": "quantitative", "scale": {"domain": [-0.18, 7.18], "nice": false, "zero": false}, "axis": {"orient": "bottom", "values": [0,1,2,3,4,5,6,7], "format": "d", "title": "Pore Volume", "labelPadding": 18, "titlePadding": 18, "titleFontSize": 20}},
                 "y": {"field": "c", "type": "quantitative", "scale": {"domain": [-0.04, 1.56], "nice": false, "zero": false}, "axis": {"orient": "left", "values": [0,0.2,0.4,0.6,0.8,1,1.2,1.4], "labels": false, "title": "C/C₀", "titlePadding": 59}}}},
   {"data": {"values": [{}]}, "mark": {"type": "text", "text": "(d)", "fontSize": 21, "fontWeight": "bold", "align": "left", "baseline": "middle", "color": "#222"},
    "encoding": {"x": {"datum": 0.1, "type": "quantitative", "scale": {"domain": [-0.18, 7.18], "nice": false, "zero": false}, "axis": {"orient": "top", "values": [0,1,2,3,4,5,6,7], "labels": false, "title": null}},
                 "y": {"datum": 1.41, "type": "quantitative", "scale": {"domain": [-0.04, 1.56], "nice": false, "zero": false}, "axis": {"orient": "right", "values": [0,0.2,0.4,0.6,0.8,1,1.2,1.4], "labels": false, "title": null}}}},
   {"data": {"values": [{}]}, "mark": {"type": "text", "text": "S", "fontSize": 14, "align": "left", "baseline": "middle", "color": "#333"},
    "encoding": {"x": {"datum": 5.49, "type": "quantitative", "axis": null}, "y": {"datum": 1.41, "type": "quantitative", "axis": null}}},
   {"data": {"values": [{}]}, "mark": {"type": "text", "text": "w", "fontSize": 10, "dx": 9.5, "dy": 4, "align": "left", "baseline": "middle", "color": "#333"},
    "encoding": {"x": {"datum": 5.49, "type": "quantitative", "axis": null}, "y": {"datum": 1.41, "type": "quantitative", "axis": null}}},
   {"data": {"values": [{}]}, "mark": {"type": "text", "text": "92%", "fontSize": 14, "dx": 20.5, "align": "left", "baseline": "middle", "color": "#333"},
    "encoding": {"x": {"datum": 5.49, "type": "quantitative", "axis": null}, "y": {"datum": 1.41, "type": "quantitative", "axis": null}}}
  ],
  "resolve": {"axis": {"x": "independent", "y": "independent"}}},
 {"width": 288, "height": 196.5,
  "layer": [
   {"data": {"name": "h"}, "mark": {"type": "point", "shape": "circle", "filled": false, "stroke": "#3e2218", "strokeWidth": 1.2, "size": 95, "opacity": 1},
    "encoding": {"x": {"field": "pv", "type": "quantitative", "scale": {"domain": [-0.18, 7.18], "nice": false, "zero": false}, "axis": {"orient": "bottom", "values": [0,1,2,3,4,5,6,7], "format": "d", "title": "Pore Volume", "labelPadding": 18, "titlePadding": 18, "titleFontSize": 20}},
                 "y": {"field": "c", "type": "quantitative", "scale": {"domain": [-0.04, 1.56], "nice": false, "zero": false}, "axis": {"orient": "left", "values": [0,0.2,0.4,0.6,0.8,1,1.2,1.4], "labels": false, "title": null}}}},
   {"data": {"values": [{}]}, "mark": {"type": "text", "text": "(h)", "fontSize": 21, "fontWeight": "bold", "align": "left", "baseline": "middle", "color": "#222"},
    "encoding": {"x": {"datum": 0.05, "type": "quantitative", "scale": {"domain": [-0.18, 7.18], "nice": false, "zero": false}, "axis": {"orient": "top", "values": [0,1,2,3,4,5,6,7], "labels": false, "title": null}},
                 "y": {"datum": 1.41, "type": "quantitative", "scale": {"domain": [-0.04, 1.56], "nice": false, "zero": false}, "axis": {"orient": "right", "values": [0,0.2,0.4,0.6,0.8,1,1.2,1.4], "labels": false, "title": null}}}},
   {"data": {"values": [{}]}, "mark": {"type": "text", "text": "S", "fontSize": 14, "align": "left", "baseline": "middle", "color": "#333"},
    "encoding": {"x": {"datum": 5.44, "type": "quantitative", "axis": null}, "y": {"datum": 1.41, "type": "quantitative", "axis": null}}},
   {"data": {"values": [{}]}, "mark": {"type": "text", "text": "w", "fontSize": 10, "dx": 9.5, "dy": 4, "align": "left", "baseline": "middle", "color": "#333"},
    "encoding": {"x": {"datum": 5.44, "type": "quantitative", "axis": null}, "y": {"datum": 1.41, "type": "quantitative", "axis": null}}},
   {"data": {"values": [{}]}, "mark": {"type": "text", "text": "100%", "fontSize": 14.5, "dx": 19.5, "align": "left", "baseline": "middle", "color": "#333"},
    "encoding": {"x": {"datum": 5.44, "type": "quantitative", "axis": null}, "y": {"datum": 1.41, "type": "quantitative", "axis": null}}}
  ],
  "resolve": {"axis": {"x": "independent", "y": "independent"}}},
 {"width": 100, "height": 196.5, "view": {"stroke": null}, "data": {"values": [{}]},
  "mark": {"type": "text", "text": "STx-1b", "fontSize": 21, "fontWeight": "bold", "color": "#3b1f17"},
  "encoding": {"x": {"datum": 64, "type": "quantitative", "scale": {"domain": [0, 100]}, "axis": null}, "y": {"datum": 0.5, "type": "quantitative", "scale": {"domain": [0, 1]}, "axis": null}}}
]
}
